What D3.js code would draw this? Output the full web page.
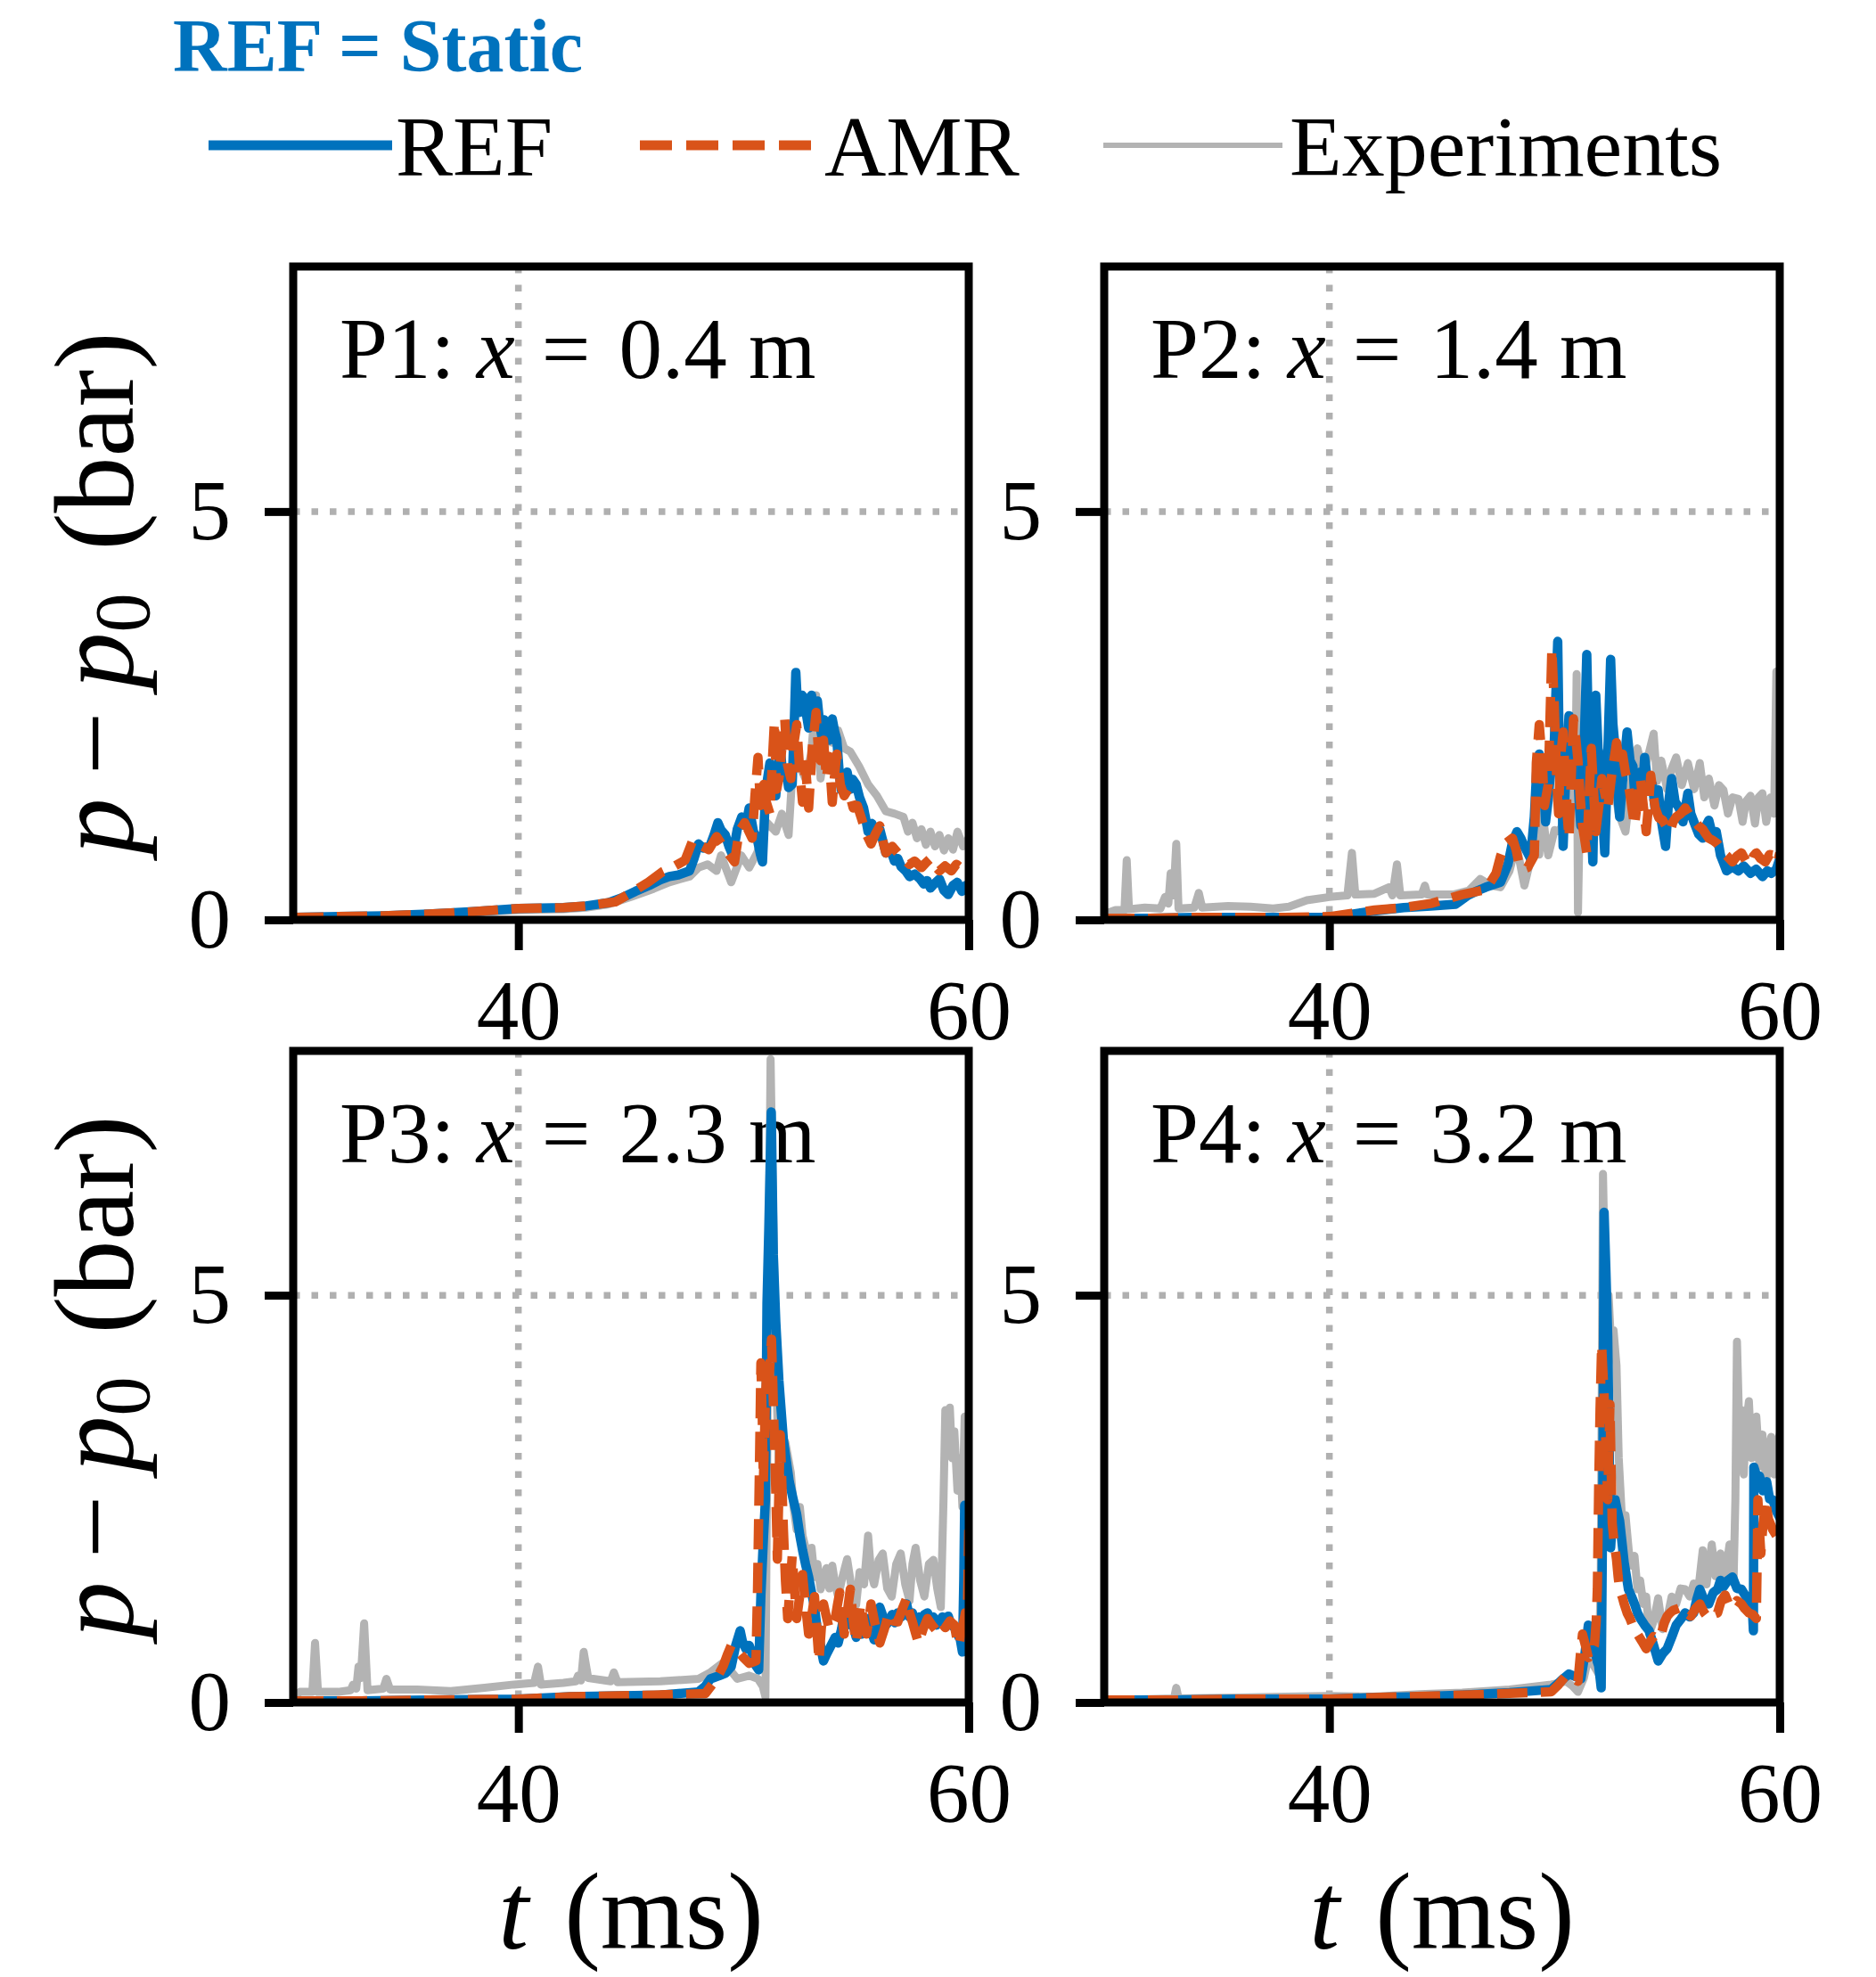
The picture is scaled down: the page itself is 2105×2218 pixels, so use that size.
<!DOCTYPE html>
<html><head><meta charset="utf-8">
<script src="https://cdn.jsdelivr.net/npm/d3@7"></script>
<style>body{margin:0;background:#fff}svg{display:block}</style>
</head><body><svg id="c" width="2105" height="2218"></svg>
<script>
// ---------------- DATA ----------------
const xDomain = [30, 60];
const yDomain = [0, 8];
const xTicks = [40, 60];
const yTicks = [0, 5];
const probeNames = ["P1", "P2", "P3", "P4"];
const probePos = ["0.4", "1.4", "2.3", "3.2"];
const seriesNames = ["REF", "AMR", "Experiments"];
const legendTitle = "REF = Static";

const p1Ref = [[30,0.03],[32,0.04],[34,0.05],[36,0.07],[38,0.10],[40,0.14],[42,0.15],[43,0.17],[44,0.21],[44.6,0.27],[45.2,0.35],[45.8,0.42],[46.3,0.49],[46.7,0.53],[47.1,0.55],[47.6,0.60],[47.8,0.75],[48.0,0.93],[48.2,0.88],[48.5,0.90],[48.7,1.05],[48.86,1.19],[49.0,1.10],[49.19,1.04],[49.35,0.90],[49.52,0.79],[49.72,1.11],[49.92,1.26],[50.1,1.15],[50.25,1.37],[50.44,1.08],[50.6,1.00],[50.75,0.80],[50.84,0.71],[50.97,1.52],[51.05,1.70],[51.17,1.92],[51.3,1.62],[51.43,1.52],[51.53,1.85],[51.63,2.10],[51.75,1.75],[51.9,1.81],[52.0,1.62],[52.16,1.66],[52.25,2.40],[52.32,3.03],[52.4,2.60],[52.49,2.54],[52.6,2.75],[52.69,2.72],[52.8,2.50],[52.89,2.35],[53.02,2.75],[53.15,2.50],[53.28,2.68],[53.38,2.40],[53.48,2.24],[53.58,2.45],[53.68,2.39],[53.8,2.20],[53.94,2.46],[54.05,2.30],[54.14,2.21],[54.25,1.80],[54.34,1.59],[54.45,1.75],[54.6,1.81],[54.75,1.60],[54.85,1.72],[55.0,1.66],[55.15,1.50],[55.33,1.37],[55.45,1.20],[55.53,1.08],[55.7,1.18],[55.85,1.05],[56.05,1.11],[56.2,0.95],[56.32,0.82],[56.5,0.88],[56.7,0.72],[56.85,0.75],[57.0,0.65],[57.2,0.60],[57.37,0.53],[57.6,0.56],[57.84,0.50],[58.0,0.44],[58.15,0.48],[58.3,0.39],[58.5,0.45],[58.7,0.50],[58.9,0.36],[59.09,0.31],[59.3,0.42],[59.49,0.46],[59.7,0.35],[59.85,0.42],[60,0.37]];
const p1Amr = [[30,0.03],[32,0.04],[34,0.05],[36,0.07],[38,0.10],[40,0.14],[42,0.15],[43,0.17],[44,0.21],[44.3,0.22],[45.0,0.33],[45.76,0.46],[46.4,0.59],[46.95,0.66],[47.4,0.73],[47.74,0.97],[48.1,0.91],[48.46,0.86],[48.8,1.02],[49.19,0.86],[49.6,0.71],[49.8,1.08],[50.05,1.19],[50.38,1.00],[50.5,1.50],[50.64,1.99],[50.75,1.40],[50.9,1.66],[51.0,1.45],[51.17,1.30],[51.27,1.90],[51.37,2.43],[51.47,1.60],[51.57,1.73],[51.7,2.10],[51.83,2.46],[51.95,1.90],[52.1,1.73],[52.2,2.10],[52.36,2.39],[52.5,1.80],[52.62,1.44],[52.75,1.90],[52.89,1.37],[53.05,2.10],[53.22,2.54],[53.32,2.10],[53.42,1.95],[53.55,2.20],[53.68,1.73],[53.8,2.00],[53.94,1.44],[54.05,1.80],[54.14,2.03],[54.3,1.65],[54.47,1.52],[54.65,1.60],[54.87,1.37],[55.05,1.40],[55.26,1.22],[55.45,1.05],[55.66,0.93],[55.85,1.05],[56.05,1.15],[56.2,0.95],[56.32,0.82],[56.6,0.90],[56.85,0.82],[57.1,0.75],[57.37,0.68],[57.6,0.72],[57.9,0.64],[58.1,0.70],[58.3,0.75],[58.5,0.66],[58.7,0.60],[58.95,0.66],[59.23,0.60],[59.45,0.68],[59.63,0.64],[59.8,0.70],[60,0.73]];
const p1Exp = [[30,0.02],[32,0.03],[34,0.04],[36,0.06],[38,0.09],[40,0.12],[42,0.13],[43,0.15],[44,0.19],[45,0.28],[46,0.38],[46.7,0.46],[47.2,0.50],[47.6,0.53],[48.0,0.64],[48.4,0.68],[48.8,0.60],[49.0,0.79],[49.45,0.46],[49.9,0.79],[50.25,0.64],[50.6,0.82],[51.04,1.19],[51.43,1.08],[51.7,1.30],[52.0,1.04],[52.2,1.95],[52.49,1.88],[52.75,1.73],[53.0,2.03],[53.22,2.75],[53.42,1.73],[53.68,2.24],[53.94,2.17],[54.2,2.32],[54.47,2.10],[54.74,2.06],[55.13,1.88],[55.53,1.66],[55.92,1.52],[56.32,1.33],[56.71,1.30],[57.1,1.26],[57.3,1.08],[57.5,1.19],[57.7,1.00],[57.9,1.11],[58.1,0.92],[58.3,1.08],[58.5,0.90],[58.7,1.04],[58.9,0.85],[59.1,1.00],[59.3,0.86],[59.5,1.08],[59.75,0.90],[60,1.00]];

const p2Ref = [[30,0.02],[32,0.02],[34,0.03],[36,0.03],[38,0.03],[40,0.03],[41,0.07],[42,0.11],[43.3,0.15],[44.5,0.17],[45.6,0.19],[46.15,0.30],[46.6,0.36],[46.95,0.40],[47.6,0.46],[47.93,0.68],[48.13,0.95],[48.33,1.08],[48.5,1.00],[48.66,0.90],[48.93,0.75],[49.1,1.26],[49.2,1.80],[49.32,2.03],[49.42,1.70],[49.5,1.76],[49.6,1.20],[49.72,1.48],[49.85,1.90],[49.98,2.10],[50.05,2.70],[50.14,3.41],[50.2,2.20],[50.25,1.37],[50.32,1.70],[50.38,0.90],[50.5,1.80],[50.64,2.50],[50.75,2.00],[50.9,1.73],[51.0,1.95],[51.1,1.40],[51.17,1.15],[51.3,2.00],[51.43,3.25],[51.5,2.30],[51.57,1.73],[51.63,1.20],[51.7,0.71],[51.77,1.80],[51.83,2.75],[51.93,2.10],[52.03,1.95],[52.13,1.30],[52.23,0.82],[52.36,2.00],[52.49,3.19],[52.59,2.40],[52.69,2.10],[52.79,1.60],[52.89,1.26],[53.05,1.80],[53.22,2.30],[53.35,1.95],[53.48,1.88],[53.6,1.35],[53.71,1.55],[53.81,1.81],[53.9,1.50],[54.0,1.99],[54.17,1.60],[54.34,1.66],[54.47,1.35],[54.6,1.59],[54.75,1.20],[54.93,0.90],[55.05,1.40],[55.2,1.73],[55.35,1.45],[55.53,1.37],[55.7,1.20],[55.92,1.55],[56.05,1.30],[56.2,1.19],[56.4,1.05],[56.58,1.00],[56.72,1.15],[56.85,1.22],[57.0,1.05],[57.18,1.08],[57.3,0.90],[57.37,0.79],[57.5,0.70],[57.64,0.60],[57.9,0.65],[58.17,0.60],[58.4,0.66],[58.7,0.57],[58.95,0.62],[59.23,0.53],[59.45,0.60],[59.63,0.57],[59.85,0.62],[60,0.75]];
const p2Amr = [[30,0.02],[32,0.02],[34,0.03],[36,0.03],[38,0.03],[40,0.04],[41,0.08],[42,0.12],[43.3,0.15],[44.5,0.20],[45.9,0.31],[46.95,0.37],[47.4,0.57],[47.6,0.78],[47.8,0.93],[48.13,1.00],[48.3,0.85],[48.4,0.71],[48.6,0.62],[48.8,0.64],[49.1,0.79],[49.15,1.40],[49.19,1.92],[49.32,2.39],[49.45,1.95],[49.55,1.40],[49.72,1.66],[49.8,2.50],[49.88,3.32],[49.98,2.68],[50.05,2.10],[50.1,1.66],[50.18,1.30],[50.25,1.95],[50.38,2.30],[50.45,1.90],[50.51,1.66],[50.57,1.25],[50.64,1.00],[50.75,1.80],[50.84,2.46],[50.95,2.20],[51.04,1.95],[51.14,1.50],[51.24,1.15],[51.33,1.00],[51.43,0.82],[51.53,1.50],[51.63,2.10],[51.73,1.60],[51.83,1.08],[51.97,1.40],[52.1,1.73],[52.23,1.55],[52.36,1.37],[52.55,1.80],[52.75,2.17],[52.89,1.90],[53.02,2.03],[53.15,1.80],[53.28,1.66],[53.42,1.40],[53.55,1.15],[53.68,1.45],[53.81,1.73],[53.94,1.40],[54.07,1.08],[54.17,1.40],[54.27,1.77],[54.37,1.55],[54.47,1.37],[54.63,1.25],[54.8,1.22],[54.95,1.15],[55.13,1.08],[55.26,1.20],[55.4,1.26],[55.6,1.30],[55.8,1.37],[56.0,1.28],[56.2,1.22],[56.4,1.15],[56.58,1.11],[56.72,1.05],[56.85,1.00],[57.05,0.97],[57.24,0.93],[57.37,0.88],[57.5,0.82],[57.7,0.77],[57.9,0.71],[58.1,0.78],[58.3,0.82],[58.5,0.72],[58.7,0.68],[58.83,0.78],[58.96,0.82],[59.15,0.75],[59.36,0.71],[59.55,0.80],[59.75,0.79],[59.9,0.70],[60,0.82]];
const p2Exp = [[30,0.07],[30.5,0.12],[30.9,0.12],[31.0,0.73],[31.1,0.13],[31.8,0.15],[32.5,0.14],[32.7,0.28],[32.85,0.20],[32.95,0.57],[33.08,0.30],[33.2,0.93],[33.3,0.14],[34.0,0.15],[34.2,0.33],[34.35,0.15],[35.5,0.17],[36.5,0.16],[37.5,0.14],[38.2,0.16],[39.0,0.24],[40.0,0.28],[40.8,0.30],[41.0,0.82],[41.15,0.31],[42.0,0.32],[42.65,0.40],[42.8,0.30],[43.0,0.68],[43.15,0.30],[44.1,0.31],[44.24,0.42],[44.35,0.31],[45.5,0.31],[46.2,0.36],[46.7,0.50],[47.2,0.42],[47.6,0.40],[48.0,0.60],[48.3,0.93],[48.66,0.42],[48.9,0.70],[49.19,1.00],[49.32,0.80],[49.45,1.37],[49.6,1.00],[49.72,0.79],[50.0,1.10],[50.25,1.08],[50.45,1.30],[50.64,1.73],[50.8,1.40],[50.9,1.20],[50.98,3.01],[51.04,0.09],[51.1,1.00],[51.3,1.50],[51.57,1.37],[51.8,1.80],[52.1,1.92],[52.3,1.60],[52.6,1.73],[52.85,1.30],[53.15,1.08],[53.4,1.70],[53.68,2.10],[53.94,1.80],[54.15,2.00],[54.4,2.28],[54.55,1.70],[54.74,1.95],[55.0,1.60],[55.2,1.85],[55.4,1.99],[55.65,1.65],[55.92,1.92],[56.2,1.60],[56.45,1.92],[56.65,1.50],[56.85,1.73],[57.1,1.40],[57.3,1.65],[57.5,1.59],[57.7,1.30],[57.9,1.50],[58.17,1.48],[58.35,1.20],[58.5,1.45],[58.7,1.52],[58.9,1.18],[59.05,1.50],[59.23,1.55],[59.4,1.20],[59.6,1.50],[59.75,1.30],[59.85,3.04],[59.92,1.55],[60,1.45]];

const p3Ref = [[30,0.02],[33,0.02],[36,0.03],[40,0.04],[42.3,0.07],[44,0.08],[46.3,0.09],[48.0,0.13],[48.3,0.20],[48.53,0.29],[48.93,0.33],[49.2,0.36],[49.45,0.44],[49.65,0.70],[49.85,0.88],[49.95,0.75],[50.1,0.66],[50.25,0.70],[50.38,0.60],[50.55,0.45],[50.67,0.40],[50.77,1.32],[50.88,2.00],[50.97,2.49],[51.04,4.90],[51.12,5.80],[51.23,7.25],[51.32,5.50],[51.43,4.68],[51.57,3.95],[51.77,3.22],[52.03,2.71],[52.2,2.50],[52.36,2.31],[52.5,2.05],[52.62,1.87],[52.75,1.70],[52.89,1.54],[53.02,1.35],[53.15,1.17],[53.25,0.95],[53.35,0.81],[53.45,0.65],[53.55,0.51],[53.7,0.60],[53.94,0.73],[54.07,0.80],[54.2,0.73],[54.35,0.90],[54.47,1.10],[54.6,0.95],[54.74,1.05],[54.87,0.95],[55.0,0.80],[55.13,0.95],[55.26,0.84],[55.4,0.95],[55.53,1.03],[55.66,0.90],[55.8,0.77],[55.92,0.95],[56.05,1.17],[56.2,1.05],[56.32,0.95],[56.45,0.99],[56.6,1.08],[56.72,0.98],[56.85,1.10],[57.0,1.05],[57.1,1.15],[57.24,1.21],[57.37,1.05],[57.5,1.10],[57.64,0.95],[57.8,1.05],[57.9,1.00],[58.03,1.08],[58.17,1.10],[58.3,0.98],[58.43,1.05],[58.57,0.95],[58.7,0.99],[58.83,1.05],[58.96,0.98],[59.09,1.06],[59.22,0.95],[59.36,0.92],[59.49,0.84],[59.62,0.78],[59.72,0.62],[59.78,1.50],[59.82,2.42],[59.9,2.35],[59.94,2.27],[60,1.76]];
const p3Amr = [[30,0.02],[33,0.02],[36,0.03],[40,0.04],[42.3,0.07],[44,0.08],[46,0.09],[48.3,0.11],[48.55,0.20],[48.8,0.29],[49.1,0.45],[49.3,0.60],[49.45,0.70],[49.6,0.66],[49.78,0.62],[50.0,0.55],[50.25,0.48],[50.45,0.50],[50.55,0.51],[50.62,1.39],[50.7,2.80],[50.77,4.17],[50.83,3.50],[50.88,2.71],[50.96,3.60],[51.04,4.24],[51.14,4.00],[51.24,4.46],[51.3,3.90],[51.37,3.22],[51.44,2.50],[51.5,1.76],[51.57,2.60],[51.63,3.29],[51.7,2.70],[51.77,2.12],[51.86,1.50],[51.96,1.03],[52.06,1.40],[52.16,1.80],[52.26,1.40],[52.36,1.03],[52.49,1.30],[52.62,1.57],[52.75,1.20],[52.89,0.84],[53.02,1.05],[53.15,1.30],[53.25,0.90],[53.35,0.51],[53.45,0.90],[53.55,1.21],[53.68,1.05],[53.81,0.90],[53.94,0.95],[54.07,1.03],[54.17,1.20],[54.27,1.35],[54.37,1.05],[54.47,0.84],[54.6,1.10],[54.74,1.39],[54.87,1.00],[55.0,0.73],[55.1,0.95],[55.2,1.21],[55.33,1.00],[55.46,0.84],[55.56,1.00],[55.66,1.21],[55.85,0.95],[56.05,0.73],[56.25,0.90],[56.45,1.10],[56.65,1.00],[56.85,0.99],[57.05,1.15],[57.24,1.28],[57.37,1.10],[57.5,0.99],[57.64,0.85],[57.77,0.73],[57.97,0.90],[58.17,1.03],[58.37,0.95],[58.57,0.88],[58.77,0.98],[58.96,0.92],[59.16,1.00],[59.36,0.95],[59.46,0.80],[59.56,0.70],[59.66,0.85],[59.75,0.95],[59.85,1.10],[59.94,1.10],[60,2.12]];
const p3Exp = [[30,0.05],[30.3,0.13],[30.85,0.13],[30.97,0.73],[31.1,0.13],[32.0,0.13],[32.55,0.15],[32.66,0.22],[32.8,0.17],[32.9,0.44],[33.0,0.30],[33.15,0.97],[33.3,0.15],[34.0,0.17],[34.14,0.29],[34.3,0.16],[35.5,0.16],[37.0,0.14],[38.5,0.18],[39.8,0.22],[40.7,0.24],[40.87,0.44],[41.0,0.22],[42.0,0.24],[42.55,0.26],[42.65,0.33],[42.78,0.27],[42.9,0.62],[43.1,0.30],[44.1,0.26],[44.24,0.37],[44.4,0.25],[46.3,0.26],[48.0,0.29],[48.53,0.37],[49.05,0.48],[49.4,0.40],[49.72,0.29],[50.25,0.33],[50.64,0.29],[50.85,0.20],[50.97,0.07],[51.05,3.00],[51.12,5.50],[51.2,7.90],[51.28,6.50],[51.35,5.50],[51.45,4.00],[51.57,2.85],[51.85,3.20],[52.1,2.82],[52.22,2.40],[52.36,2.12],[52.5,2.40],[52.62,2.05],[52.75,1.90],[52.89,1.76],[53.02,1.90],[53.15,1.54],[53.28,1.70],[53.42,1.39],[53.55,1.50],[53.68,1.65],[53.81,1.40],[53.94,1.68],[54.07,1.45],[54.2,1.30],[54.4,1.55],[54.6,1.76],[54.8,1.40],[55.0,1.20],[55.15,1.60],[55.35,1.45],[55.53,2.05],[55.66,1.60],[55.8,1.45],[56.0,1.75],[56.18,1.83],[56.38,1.40],[56.58,1.30],[56.78,1.70],[56.98,1.83],[57.18,1.45],[57.37,1.25],[57.5,1.70],[57.64,1.90],[57.84,1.50],[58.03,1.30],[58.23,1.70],[58.43,1.75],[58.6,1.40],[58.76,1.17],[58.88,2.50],[58.96,3.59],[59.06,3.20],[59.16,3.62],[59.26,3.00],[59.36,3.33],[59.5,2.60],[59.62,3.00],[59.72,2.40],[59.82,3.51],[59.92,2.80],[60,3.20]];

const p4Ref = [[30,0.03],[33,0.03],[36,0.04],[40,0.04],[41.93,0.06],[44,0.07],[45.9,0.09],[48,0.12],[49.85,0.16],[50.1,0.22],[50.38,0.29],[50.64,0.35],[50.9,0.32],[51.17,0.29],[51.35,0.60],[51.5,0.95],[51.63,0.80],[51.77,0.66],[51.9,0.50],[51.96,0.45],[52.07,0.18],[52.14,2.50],[52.2,6.02],[52.28,5.30],[52.36,4.50],[52.42,3.22],[52.49,1.90],[52.58,2.30],[52.69,2.49],[52.79,2.35],[52.89,2.23],[53.0,1.95],[53.09,1.72],[53.19,1.55],[53.28,1.39],[53.42,1.30],[53.55,1.21],[53.68,1.10],[53.81,1.03],[54.0,0.95],[54.2,0.88],[54.4,0.70],[54.6,0.51],[54.8,0.60],[55.0,0.66],[55.2,0.80],[55.4,0.95],[55.6,1.02],[55.8,1.10],[56.0,1.05],[56.18,1.10],[56.3,1.25],[56.45,1.39],[56.65,1.25],[56.85,1.21],[57.05,1.35],[57.24,1.39],[57.37,1.50],[57.5,1.42],[57.7,1.50],[57.9,1.54],[58.1,1.40],[58.3,1.39],[58.5,1.30],[58.7,1.21],[58.8,1.05],[58.83,0.88],[58.85,2.89],[58.95,2.80],[59.1,2.78],[59.25,2.60],[59.42,2.71],[59.55,2.50],[59.69,2.49],[59.85,2.35],[60,2.27]];
const p4Amr = [[30,0.03],[33,0.03],[36,0.04],[40,0.04],[41.93,0.06],[45.9,0.09],[49.85,0.13],[50.18,0.22],[50.51,0.33],[50.8,0.30],[51.04,0.26],[51.15,0.60],[51.24,0.84],[51.37,0.70],[51.5,0.55],[51.63,0.62],[51.77,0.70],[51.85,1.00],[51.9,1.39],[51.96,2.67],[52.02,3.60],[52.09,4.39],[52.16,4.00],[52.23,3.59],[52.3,3.00],[52.36,2.49],[52.41,3.10],[52.46,3.66],[52.51,2.90],[52.56,2.20],[52.65,1.95],[52.75,1.76],[52.82,1.55],[52.89,1.39],[53.0,1.30],[53.09,1.21],[53.22,1.10],[53.35,1.03],[53.5,0.92],[53.68,0.84],[53.88,0.75],[54.07,0.66],[54.25,0.75],[54.4,0.81],[54.57,0.78],[54.74,0.84],[54.87,0.98],[55.0,1.06],[55.13,1.10],[55.26,1.13],[55.46,1.15],[55.66,1.17],[55.85,1.10],[56.05,1.06],[56.25,1.15],[56.45,1.21],[56.65,1.10],[56.85,1.03],[57.05,1.08],[57.24,1.10],[57.4,1.25],[57.57,1.32],[57.75,1.20],[57.9,1.17],[58.1,1.25],[58.3,1.21],[58.45,1.15],[58.63,1.10],[58.8,1.08],[58.96,1.03],[59.0,1.80],[59.03,2.49],[59.1,2.10],[59.16,1.83],[59.26,2.20],[59.36,2.49],[59.5,2.25],[59.69,2.12],[59.85,2.05],[60,1.94]];
const p4Exp = [[30,0.03],[32,0.04],[33.1,0.05],[33.2,0.18],[33.3,0.05],[36,0.06],[38,0.07],[40,0.08],[41.93,0.07],[44,0.10],[45.9,0.12],[48,0.16],[49.85,0.22],[50.2,0.24],[50.51,0.26],[50.8,0.20],[51.04,0.13],[51.3,0.30],[51.5,0.55],[51.75,0.45],[51.96,0.35],[52.05,1.50],[52.1,4.00],[52.15,6.49],[52.22,5.50],[52.3,4.80],[52.4,5.00],[52.49,4.50],[52.56,4.30],[52.62,4.57],[52.7,4.30],[52.75,4.14],[52.85,3.00],[53.02,2.12],[53.15,2.30],[53.3,1.85],[53.42,1.68],[53.55,1.80],[53.68,1.39],[53.8,1.50],[53.94,1.21],[54.07,1.30],[54.2,0.84],[54.4,1.00],[54.6,1.28],[54.8,0.90],[55.0,1.03],[55.2,1.30],[55.4,1.21],[55.6,1.40],[55.8,1.39],[56.0,1.30],[56.18,1.46],[56.35,1.30],[56.58,1.87],[56.75,1.45],[56.98,1.94],[57.15,1.55],[57.37,1.83],[57.55,1.50],[57.77,1.94],[57.95,1.50],[58.03,2.50],[58.1,4.43],[58.2,3.40],[58.3,3.59],[58.4,2.80],[58.5,3.40],[58.63,3.70],[58.75,3.00],[58.85,3.30],[58.96,3.51],[59.1,2.90],[59.23,3.29],[59.4,2.70],[59.5,3.10],[59.62,3.26],[59.75,2.80],[59.85,3.15],[60,3.29]];

const panelRef = [p1Ref, p2Ref, p3Ref, p4Ref];
const panelAmr = [p1Amr, p2Amr, p3Amr, p4Amr];
const panelExp = [p1Exp, p2Exp, p3Exp, p4Exp];

// ---------------- STYLE / LAYOUT ----------------
const FONT = "'Liberation Serif','Times New Roman',Times,serif";
const C_REF = "#0072BD", C_AMR = "#D95319", C_EXP = "#b3b3b3", C_GRID = "#b0b0b0";
const boxes = [
  {l:329, r:1087, t:299, b:1032},
  {l:1239, r:1997, t:299, b:1032},
  {l:329, r:1087, t:1179, b:1910},
  {l:1239, r:1997, t:1179, b:1910}
];

const svg = d3.select("#c");
svg.append("rect").attr("width",2105).attr("height",2218).attr("fill","#fff");
const defs = svg.append("defs");

boxes.forEach((bx, i) => {
  const x = d3.scaleLinear().domain(xDomain).range([bx.l, bx.r]);
  const y = d3.scaleLinear().domain(yDomain).range([bx.b, bx.t]);
  const g = svg.append("g");

  // grid
  g.append("line").attr("x1", x(40)).attr("x2", x(40)).attr("y1", bx.t).attr("y2", bx.b)
    .attr("stroke", C_GRID).attr("stroke-width", 7.5).attr("stroke-dasharray", "7.5,13");
  g.append("line").attr("x1", bx.l).attr("x2", bx.r).attr("y1", y(5)).attr("y2", y(5))
    .attr("stroke", C_GRID).attr("stroke-width", 7.5).attr("stroke-dasharray", "7.5,13");

  // panel label
  const lab = g.append("text").attr("x", bx.l + 52).attr("y", bx.t + 125)
    .attr("font-family", FONT).attr("font-size", 97).attr("fill", "#000");
  lab.append("tspan").text(probeNames[i] + ": ");
  lab.append("tspan").attr("font-style", "italic").text("x");
  lab.append("tspan").attr("dx", 30).text("=");
  lab.append("tspan").attr("dx", 32).text(probePos[i] + " m");

  // clip
  const cid = "clip" + i;
  defs.append("clipPath").attr("id", cid).append("rect")
    .attr("x", bx.l).attr("y", bx.t).attr("width", bx.r - bx.l).attr("height", bx.b - bx.t);
  const line = d3.line().x(d => x(d[0])).y(d => y(d[1]));
  const lg = g.append("g").attr("clip-path", `url(#${cid})`);
  lg.append("path").datum(panelExp[i]).attr("d", line).attr("fill", "none")
    .attr("stroke", C_EXP).attr("stroke-width", 9).attr("stroke-linejoin", "round").attr("stroke-linecap", "round");
  lg.append("path").datum(panelRef[i]).attr("d", line).attr("fill", "none")
    .attr("stroke", C_REF).attr("stroke-width", 10.5).attr("stroke-linejoin", "round").attr("stroke-linecap", "round");
  lg.append("path").datum(panelAmr[i]).attr("d", line).attr("fill", "none")
    .attr("stroke", C_AMR).attr("stroke-width", 10.5).attr("stroke-linejoin", "round")
    .attr("stroke-dasharray", "34,15");

  // spines
  g.append("rect").attr("x", bx.l).attr("y", bx.t).attr("width", bx.r - bx.l).attr("height", bx.b - bx.t)
    .attr("fill", "none").attr("stroke", "#000").attr("stroke-width", 9);

  // axes
  const ax = g.append("g").attr("transform", `translate(0,${bx.b})`)
    .call(d3.axisBottom(x).tickValues(xTicks).tickSize(34).tickPadding(33).tickFormat(d3.format("d")));
  ax.select(".domain").remove();
  ax.selectAll("line").attr("stroke", "#000").attr("stroke-width", 9);
  ax.selectAll("text").attr("font-family", FONT).attr("font-size", 95).attr("fill", "#000");

  const ay = g.append("g").attr("transform", `translate(${bx.l},0)`)
    .call(d3.axisLeft(y).tickValues(yTicks).tickSize(32).tickPadding(38).tickFormat(d3.format("d")));
  ay.select(".domain").remove();
  ay.selectAll("line").attr("stroke", "#000").attr("stroke-width", 9);
  ay.selectAll("text").attr("font-family", FONT).attr("font-size", 95).attr("fill", "#000");

  // y label (left column)
  if (i % 2 === 0) {
    const cy = (bx.t + bx.b) / 2;
    const yl = g.append("text").attr("transform", `translate(149,${cy}) rotate(-90)`)
      .attr("text-anchor", "middle").attr("font-family", FONT).attr("font-size", 126).attr("fill", "#000");
    yl.append("tspan").attr("font-style", "italic").text("p");
    yl.append("tspan").attr("dx", 26).text("−");
    yl.append("tspan").attr("dx", 26).attr("font-style", "italic").text("p");
    yl.append("tspan").attr("font-size", 88).attr("dy", 18).text("0");
    yl.append("tspan").attr("dy", -18).attr("dx", 48).text("(bar)");
  }
  // x label (bottom row)
  if (i >= 2) {
    const cx = (bx.l + bx.r) / 2;
    const xl = g.append("text").attr("x", cx).attr("y", 2186)
      .attr("text-anchor", "middle").attr("font-family", FONT).attr("font-size", 122).attr("fill", "#000");
    xl.append("tspan").attr("font-style", "italic").text("t");
    xl.append("tspan").attr("dx", 40).text("(ms)");
  }
});

// ---------------- LEGEND ----------------
svg.append("text").attr("x", 194).attr("y", 80).attr("font-family", FONT).attr("font-weight", "bold")
  .attr("font-size", 84).attr("fill", C_REF).text(legendTitle);

const legY = 163, legBase = 197;
const leg = svg.append("g");
leg.append("line").attr("x1", 234).attr("x2", 440).attr("y1", legY).attr("y2", legY)
  .attr("stroke", C_REF).attr("stroke-width", 11);
leg.append("text").attr("x", 444).attr("y", legBase).attr("font-family", FONT).attr("font-size", 96).text(seriesNames[0]);
leg.append("line").attr("x1", 718).attr("x2", 910).attr("y1", legY).attr("y2", legY)
  .attr("stroke", C_AMR).attr("stroke-width", 11).attr("stroke-dasharray", "36,16");
leg.append("text").attr("x", 925).attr("y", legBase).attr("font-family", FONT).attr("font-size", 96).text(seriesNames[1]);
leg.append("line").attr("x1", 1238).attr("x2", 1439).attr("y1", legY).attr("y2", legY)
  .attr("stroke", C_EXP).attr("stroke-width", 6);
leg.append("text").attr("x", 1447).attr("y", legBase).attr("font-family", FONT).attr("font-size", 96).text(seriesNames[2]);
</script></body></html>
